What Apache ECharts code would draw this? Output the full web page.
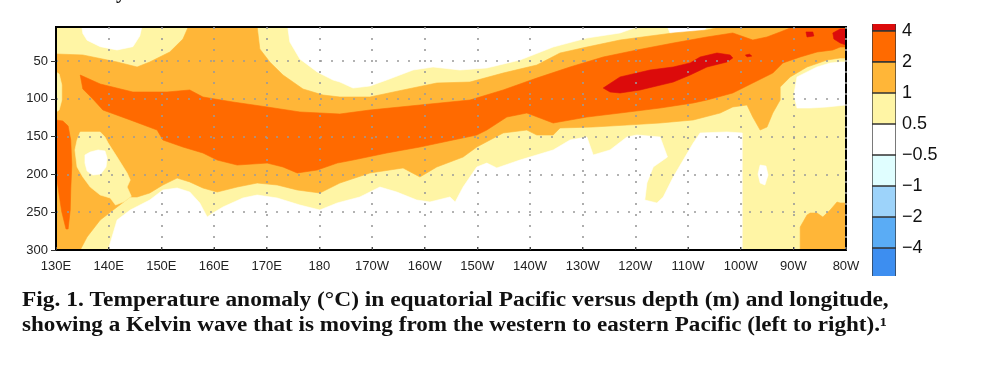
<!DOCTYPE html>
<html>
<head>
<meta charset="utf-8">
<script src="https://cdn.jsdelivr.net/npm/echarts@6/dist/echarts.min.js"></script>
<style>
html,body{margin:0;padding:0;background:#fff;}
#chart{width:990px;height:382px;}
</style>
</head>
<body>
<div id="chart"></div>
<script>
// ---------- axis ticks ----------
const xTickValues = [130,140,150,160,170,180,190,200,210,220,230,240,250,260,270,280];
const xTickLabels = ['130E','140E','150E','160E','170E','180','170W','160W','150W','140W','130W','120W','110W','100W','90W','80W'];
const depthTickValues = [50,100,150,200,250,300];

// ---------- anomaly bands (degC) ----------
// band 0: -0.5..0.5, 1: 0.5..1, 2: 1..2, 3: 2..4, 4: > 4
const bandColors = ['#ffffff','#fff5a5','#ffb638','#ff6a00','#dc0b0b'];

// ---------- contour regions, [longitude (deg east), depth (m)] ----------
const sectionAbove05 = [[130,5],[280,5],[280,300],[130,300]];
const coolTopWest = [[134.9,5],[135.1,13.5],[135.9,22.5],[138.4,31.0],[141.6,35.4],[144.6,31.0],[145.9,17.0],[146.3,5]];
const coolTopCentral = [[174.0,5],[174.4,24.8],[176.3,47.3],[179.6,64.5],[182.6,75.1],[183.9,77.8],[186.4,85.7],[189.6,83.1],[192.8,75.1],[197.8,61.9],[201.6,57.9],[206.7,61.9],[211.8,59.2],[218.1,48.7],[224.4,31.5],[230.8,19.6],[237.1,12.9],[240.3,5]];
const coolTopEast = [[246.1,5],[246.6,12.9],[249.5,18.2],[252.3,16.9],[253.6,5]];
const coolEastShallow = [[270.7,71.1],[274.5,57.9],[277.0,52.6],[278.9,51.3],[280,51.3],[280,108.2],[276.4,110.8],[273.2,112.2],[270.7,112.2],[270.1,95.0]];
const coolDeep = [[139.9,300],[140.3,290.7],[141.6,260.3],[144.1,247.1],[147.8,233.9],[150.3,220.6],[153.0,218.0],[155.4,223.3],[157.3,237.8],[158.7,256.4],[159.8,251.1],[161.7,243.1],[165.5,231.2],[168.2,227.3],[172.0,231.2],[176.3,240.5],[180.1,247.1],[183.4,237.8],[187.7,229.9],[191.5,216.7],[194.7,223.3],[198.5,233.9],[201.0,236.5],[204.8,229.9],[205.8,236.5],[207.3,216.7],[209.9,190.2],[211.8,185.0],[213.7,191.5],[218.1,181.0],[224.4,167.7],[227.6,154.5],[230.8,150.5],[232.0,174.3],[235.2,167.7],[238.4,150.5],[240.3,147.9],[244.7,150.5],[246.1,177.0],[243.4,190.2],[242.2,211.4],[241.8,233.9],[244.1,237.8],[245.3,229.9],[247.2,203.4],[249.1,181.0],[251.0,158.5],[252.3,145.2],[257.4,143.9],[260.3,145.2],[260.3,300]];
const coolHoleEast = [[263.7,187.6],[264.8,188.9],[265.2,200.8],[264.6,214.0],[263.7,211.4],[263.3,199.5]];
const warmAbove1Main = [[130,40.7],[135.1,42.0],[141.6,51.3],[145.4,57.9],[147.8,51.3],[151.6,38.1],[154.1,20.9],[155.1,5],[168.2,5],[168.7,34.1],[170.6,51.3],[173.1,68.5],[176.9,87.0],[180.7,95.0],[183.9,97.6],[189.6,97.6],[195.9,88.3],[202.3,79.1],[208.6,77.8],[214.9,65.9],[221.3,55.3],[225.7,39.4],[230.8,31.5],[237.1,22.2],[242.8,16.9],[247.2,12.9],[253.6,9.0],[256.1,5],[280,5],[280,46.0],[278.9,46.0],[276.4,48.7],[272.6,57.9],[269.4,71.1],[267.5,84.4],[267.5,101.6],[266.1,118.8],[265.0,137.3],[263.7,141.3],[262.3,124.1],[261.2,108.2],[258.5,110.8],[256.1,118.8],[251.0,128.0],[244.7,132.0],[238.4,134.7],[232.0,137.3],[225.7,138.6],[224.4,147.9],[221.3,147.9],[219.4,141.3],[214.9,145.2],[209.9,163.8],[207.3,177.0],[202.3,190.2],[199.1,203.4],[195.9,191.5],[189.6,198.1],[183.9,211.4],[180.1,224.6],[175.8,220.6],[172.0,214.0],[168.2,211.4],[164.4,216.7],[160.6,223.3],[157.9,218.0],[155.4,210.0],[153.0,204.8],[150.3,214.0],[147.8,224.6],[145.4,229.9],[144.1,229.9],[141.6,243.1],[138.4,260.3],[135.9,282.8],[134.6,300],[130,300]];
const warmAbove1DeepEast = [[271.3,300],[271.3,269.6],[272.6,253.7],[273.2,251.1],[274.5,251.1],[275.6,256.4],[277.0,247.1],[278.3,236.5],[278.9,237.8],[280,237.8],[280,300]];
const weakPocketWest = [[134.6,143.9],[138.4,143.9],[139.3,150.5],[139.9,158.5],[141.6,177.0],[143.5,198.1],[144.1,207.4],[143.5,216.7],[144.3,229.0],[143.0,236.0],[141.3,240.5],[140.3,231.2],[138.4,227.3],[136.5,216.7],[135.1,203.4],[134.0,190.2],[133.6,167.7],[134.0,154.5]];
const weakEdgeWest = [[130,64.5],[130.6,67.2],[131.1,81.7],[131.1,101.6],[130.6,114.8],[130,117.4]];
const coolPocketWest = [[135.5,174.3],[136.5,170.4],[138.0,167.7],[139.3,169.0],[139.7,178.3],[139.5,190.2],[138.5,199.5],[137.0,200.8],[135.9,195.5],[135.5,185.0]];
const warmAbove2Wave = [[134.6,68.5],[138.4,80.4],[144.6,91.0],[151.1,91.0],[155.4,88.3],[157.9,97.6],[163.6,104.2],[170.1,110.8],[176.3,117.4],[183.9,120.1],[189.6,114.8],[199.1,108.2],[208.6,101.6],[214.9,88.3],[221.3,72.5],[227.6,57.9],[233.9,44.7],[240.3,35.4],[247.2,26.2],[253.6,18.2],[258.5,12.9],[262.3,22.2],[265.0,18.2],[267.5,11.6],[269.9,5],[280,5],[280,31.5],[278.9,31.5],[277.5,35.4],[274.5,38.1],[271.3,44.7],[268.0,52.6],[266.1,65.9],[262.3,79.1],[258.5,92.3],[253.6,101.6],[251.0,105.5],[244.7,112.2],[237.1,118.8],[230.8,124.1],[224.4,132.0],[219.4,118.8],[215.6,124.1],[211.8,141.3],[209.9,147.9],[205.4,154.5],[199.1,163.8],[192.8,171.7],[186.4,181.0],[183.4,185.0],[179.6,194.2],[175.8,198.1],[173.1,190.2],[170.1,185.0],[164.4,187.6],[160.6,181.0],[157.9,171.7],[154.1,163.8],[150.3,154.5],[149.2,141.3],[144.1,128.0],[138.9,114.8],[137.0,100.2],[135.1,87.0]];
const warmAbove2West = [[130,128.0],[131.3,129.4],[132.3,136.0],[132.8,154.5],[133.0,187.6],[132.8,220.6],[132.7,247.1],[132.3,272.2],[131.9,272.2],[131.1,249.7],[130.6,227.3],[130.2,207.4],[130,194.2]];
const warmAbove4Core = [[233.9,85.7],[237.1,71.1],[242.8,61.9],[247.2,57.9],[250.4,52.6],[252.3,44.7],[255.5,39.4],[258.0,42.0],[258.5,46.0],[257.4,51.3],[253.6,57.9],[250.4,68.5],[247.2,77.8],[240.9,88.3],[237.1,92.3],[235.2,91.0]];
const warmAbove4Coast = [[277.5,12.9],[278.9,7.6],[280,7.6],[280,28.8],[278.9,26.2],[277.7,20.9]];
const warmAbove4Spot = [[272.4,11.6],[273.7,11.6],[273.9,16.9],[272.6,18.2]];
const warmAbove4Fleck = [[260.9,42.0],[261.7,41.0],[262.1,43.5],[261.2,44.5]];

// draw order: each later region is painted over the earlier ones
const regions = [
  {band: 1, points: sectionAbove05},
  {band: 0, points: coolTopWest},
  {band: 0, points: coolTopCentral},
  {band: 0, points: coolTopEast},
  {band: 0, points: coolEastShallow},
  {band: 0, points: coolDeep},
  {band: 0, points: coolHoleEast},
  {band: 2, points: warmAbove1Main},
  {band: 2, points: warmAbove1DeepEast},
  {band: 1, points: weakPocketWest},
  {band: 1, points: weakEdgeWest},
  {band: 0, points: coolPocketWest},
  {band: 3, points: warmAbove2Wave},
  {band: 3, points: warmAbove2West},
  {band: 4, points: warmAbove4Core},
  {band: 4, points: warmAbove4Coast},
  {band: 4, points: warmAbove4Spot},
  {band: 4, points: warmAbove4Fleck}
];

// ---------- colour bar ----------
const colorbarColors = ['#dc0b0b','#ff6a00','#ffb638','#fff5a5','#ffffff','#e0feff','#9dd3fa','#5aacf5','#3d8ef0'];
const colorbarLabels = ['4','2','1','0.5','\u22120.5','\u22121','\u22122','\u22124'];
const colorbarLabelPos = [1,2,3,4,5,6,7,8];

// ---------- caption ----------
const captionLines = [
  'Fig. 1. Temperature anomaly (\u00B0C) in equatorial Pacific versus depth (m) and longitude,',
  'showing a Kelvin wave that is moving from the western to eastern Pacific (left to right).\u00B9'
];

const sans = '"Liberation Sans", Arial, sans-serif';
const serifBold = 'bold 20px "Liberation Serif", "Times New Roman", serif';
const dotted = {show: true, lineStyle: {type: [2, 9], color: '#9a9a9a', width: 1.6}};

const regionSeries = regions.map((r, k) => ({
  type: 'custom', xAxisIndex: 0, yAxisIndex: 0, z: -1, silent: true, clip: true,
  data: r.points,
  encode: {x: 0, y: 1},
  renderItem: (params, api) => {
    if (params.dataIndex !== 0) return null;
    return {
      type: 'polygon', z2: k,
      shape: {points: r.points.map(p => api.coord(p))},
      style: {fill: bandColors[r.band], stroke: bandColors[r.band], lineWidth: 0.6}
    };
  }
}));

const colorbarData = colorbarColors.map((c, i) => [0, 1, i, i + 1, i]);

const chart = echarts.init(document.getElementById('chart'), null, {renderer: 'canvas'});
chart.setOption({
  animation: false,
  backgroundColor: '#fff',
  grid: [
    {left: 56, top: 27, right: 144, bottom: 132, show: true, borderColor: '#000', borderWidth: 2, backgroundColor: 'transparent'},
    {left: 872, top: 24, width: 24, bottom: 106}
  ],
  xAxis: [
    {
      type: 'value', gridIndex: 0, min: 130, max: 280, interval: 10,
      axisLine: {show: true, lineStyle: {color: '#000', width: 2}},
      axisTick: {show: true, inside: true, length: 3, lineStyle: {color: '#444'}},
      axisLabel: {
        formatter: v => { const k = xTickValues.indexOf(v); return k >= 0 ? xTickLabels[k] : ''; },
        fontSize: 13, color: '#222', margin: 10, fontFamily: sans
      },
      splitLine: dotted
    },
    {type: 'value', gridIndex: 1, min: 0, max: 1, show: false}
  ],
  yAxis: [
    {
      type: 'value', gridIndex: 0, min: 5, max: 300, inverse: true,
      axisLine: {show: true, lineStyle: {color: '#000', width: 2}},
      axisTick: {show: true, length: 5, customValues: depthTickValues, lineStyle: {color: '#333'}},
      axisLabel: {
        customValues: depthTickValues,
        formatter: v => depthTickValues.indexOf(v) >= 0 ? String(v) : '',
        fontSize: 13, color: '#222', margin: 8, fontFamily: sans
      },
      splitLine: dotted
    },
    {
      type: 'value', gridIndex: 1, min: 0.774, max: 8.9, inverse: true, position: 'right',
      axisLine: {show: false}, axisTick: {show: false}, splitLine: {show: false},
      axisLabel: {
        customValues: colorbarLabelPos,
        formatter: v => { const k = colorbarLabelPos.indexOf(v); return k >= 0 ? colorbarLabels[k] : ''; },
        fontSize: 18, color: '#111', margin: 6, fontFamily: sans
      }
    }
  ],
  series: regionSeries.concat([
    {
      type: 'custom', xAxisIndex: 1, yAxisIndex: 1, silent: true, clip: true,
      data: colorbarData,
      encode: {x: [0, 1], y: [2, 3]},
      renderItem: (params, api) => {
        const a = api.coord([api.value(0), api.value(2)]);
        const b = api.coord([api.value(1), api.value(3)]);
        return {type: 'rect',
                shape: {x: Math.min(a[0], b[0]), y: Math.min(a[1], b[1]), width: Math.abs(b[0] - a[0]), height: Math.abs(b[1] - a[1])},
                style: {fill: colorbarColors[api.value(4)], stroke: '#333', lineWidth: 1.3}};
      }
    }
  ]),
  graphic: [
    {type: 'text', x: 121, y: -7.5, style: {text: 'y', font: serifBold, fill: '#111', align: 'center', verticalAlign: 'middle'}},
    {type: 'text', x: 22, y: 300.5, scaleX: 1.17, style: {text: captionLines[0], font: serifBold, fill: '#111', align: 'left', verticalAlign: 'middle'}},
    {type: 'text', x: 22, y: 325.5, scaleX: 1.155, style: {text: captionLines[1], font: serifBold, fill: '#111', align: 'left', verticalAlign: 'middle'}},
    {type: 'rect', shape: {x: 0, y: 336, width: 990, height: 46}, style: {fill: '#fff'}, z: 100}
  ]
});
</script>
</body>
</html>
